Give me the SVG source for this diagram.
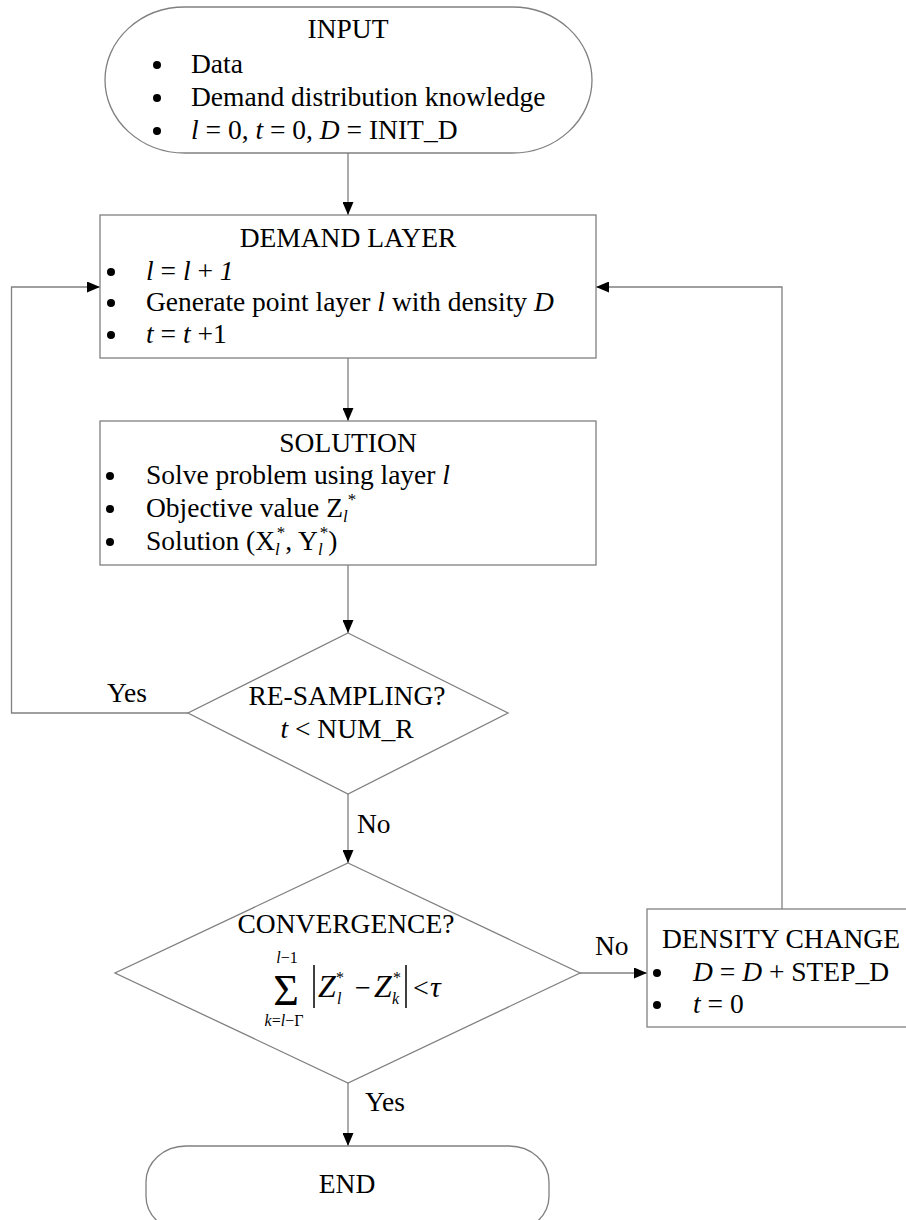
<svg xmlns="http://www.w3.org/2000/svg" width="906" height="1220" viewBox="0 0 906 1220">
<style>
text{font-family:"Liberation Serif","Times New Roman",serif;font-size:27.5px;fill:#000}
.c{text-anchor:middle}
.i{font-style:italic}
.s{font-size:17px}
.shape{fill:#fff;stroke:#808080;stroke-width:1.3}
.conn{fill:none;stroke:#808080;stroke-width:1.3}
.bar{stroke:#000;stroke-width:1.5}
.dot{fill:#000}
</style>
<defs>
<marker id="ah" markerWidth="13" markerHeight="11" refX="13" refY="5.5" orient="auto" markerUnits="userSpaceOnUse">
<path d="M0,0 L13,5.5 L0,11 z" fill="#000"/>
</marker>
</defs>
<rect width="906" height="1220" fill="#fff"/>
<g id="connectors">
<path class="conn" d="M348,153 V215" marker-end="url(#ah)"/>
<path class="conn" d="M348,358 V421" marker-end="url(#ah)"/>
<path class="conn" d="M348,565 V633" marker-end="url(#ah)"/>
<path class="conn" d="M348,794 V863" marker-end="url(#ah)"/>
<path class="conn" d="M348,1083 V1146" marker-end="url(#ah)"/>
<path class="conn" d="M188,713 H11.5 V287 H100" marker-end="url(#ah)"/>
<path class="conn" d="M580,973 H647" marker-end="url(#ah)"/>
<path class="conn" d="M782,909 V287 H596" marker-end="url(#ah)"/>
<text x="107" y="702">Yes</text>
<text x="357" y="833">No</text>
<text x="595" y="955">No</text>
<text x="365" y="1111">Yes</text>
</g>
<g id="input">
<rect class="shape" x="105" y="7" width="487" height="146" rx="80" ry="73"/>
<text class="c" x="348" y="38">INPUT</text>
<circle class="dot" cx="157" cy="65" r="4"/>
<text x="191" y="73">Data</text>
<circle class="dot" cx="157" cy="98" r="4"/>
<text x="191" y="106">Demand distribution knowledge</text>
<circle class="dot" cx="157" cy="131" r="4"/>
<text x="191" y="139"><tspan class="i">l</tspan> = 0, <tspan class="i">t</tspan> = 0, <tspan class="i">D</tspan> = INIT_D</text>
</g>
<g id="demand-layer">
<rect class="shape" x="100" y="215" width="496" height="143"/>
<text class="c" x="348" y="247">DEMAND LAYER</text>
<circle class="dot" cx="111" cy="272" r="4"/>
<text x="146" y="280"><tspan class="i">l</tspan> = <tspan class="i">l</tspan> + <tspan class="i">1</tspan></text>
<circle class="dot" cx="111" cy="303" r="4"/>
<text x="146" y="311">Generate point layer <tspan class="i">l</tspan> with density <tspan class="i">D</tspan></text>
<circle class="dot" cx="111" cy="335" r="4"/>
<text x="146" y="343"><tspan class="i">t</tspan> = <tspan class="i">t</tspan> +1</text>
</g>
<g id="solution">
<rect class="shape" x="100" y="421" width="496" height="144"/>
<text class="c" x="348" y="452">SOLUTION</text>
<circle class="dot" cx="110" cy="476" r="4"/>
<text x="146" y="484">Solve problem using layer <tspan class="i">l</tspan></text>
<circle class="dot" cx="110" cy="509" r="4"/>
<text x="146" y="517">Objective value Z<tspan class="i s" dy="5">l</tspan><tspan class="s" dy="-17">*</tspan></text>
<circle class="dot" cx="110" cy="542" r="4"/>
<text x="146" y="550">Solution (X<tspan class="i s" dy="5">l</tspan><tspan class="s" dx="-3" dy="-17">*</tspan><tspan dy="12">, Y</tspan><tspan class="i s" dy="5">l</tspan><tspan class="s" dx="-3" dy="-17">*</tspan><tspan dy="12">)</tspan></text>
</g>
<g id="resampling">
<polygon class="shape" points="348,633 508,713 348,794 188,713"/>
<text class="c" x="347" y="705">RE-SAMPLING?</text>
<text class="c" x="347" y="738"><tspan class="i">t</tspan> &lt; NUM_R</text>
</g>
<g id="convergence">
<polygon class="shape" points="348,863 580,973 348,1083 115,973"/>
<text class="c" x="346" y="933">CONVERGENCE?</text>
<text class="c" x="286" y="1005" style="font-size:44px">Σ</text>
<text class="c" x="287" y="963" style="font-size:16px"><tspan class="i">l</tspan>−1</text>
<text class="c" x="284" y="1026" style="font-size:16px"><tspan class="i">k</tspan>=<tspan class="i">l</tspan>−Γ</text>
<line class="bar" x1="314" y1="965" x2="314" y2="1008"/>
<line class="bar" x1="406" y1="965" x2="406" y2="1008"/>
<text class="i" x="318" y="997" style="font-size:32px">Z</text>
<text class="i" x="337" y="1004" style="font-size:16px">l</text>
<text x="336" y="983" style="font-size:16px">*</text>
<text x="355" y="997" style="font-size:28px">−</text>
<text class="i" x="374" y="997" style="font-size:32px">Z</text>
<text class="i" x="392" y="1004" style="font-size:16px">k</text>
<text x="393" y="983" style="font-size:16px">*</text>
<text x="413" y="997" style="font-size:28px">&lt;</text>
<text class="i" x="430" y="997" style="font-size:30px">τ</text>
</g>
<g id="density-change">
<rect class="shape" x="647" y="909" width="270" height="118"/>
<text class="c" x="781" y="948">DENSITY CHANGE</text>
<circle class="dot" cx="657" cy="973" r="4"/>
<text x="693" y="981"><tspan class="i">D</tspan> = <tspan class="i">D</tspan> + STEP_D</text>
<circle class="dot" cx="657" cy="1005" r="4"/>
<text x="693" y="1013"><tspan class="i">t</tspan> = 0</text>
</g>
<g id="end">
<rect class="shape" x="146" y="1146" width="403" height="86" rx="40" ry="36"/>
<text class="c" x="347" y="1193">END</text>
</g>
</svg>
